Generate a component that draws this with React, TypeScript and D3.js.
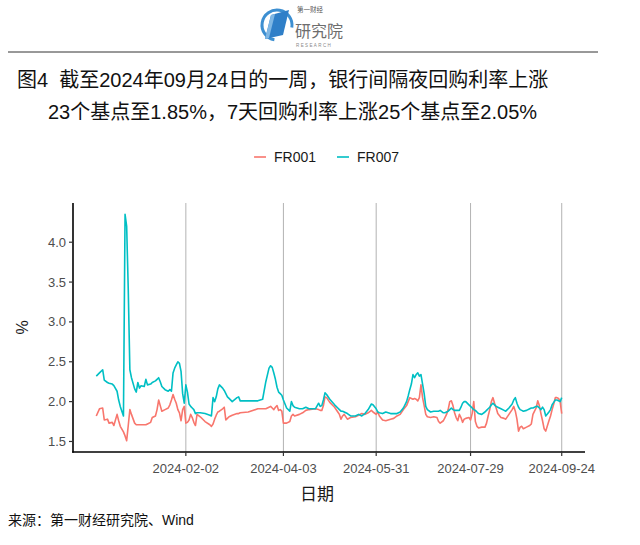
import React from 'react';
import * as d3 from 'd3';

const dates = [
  '2023-12-08','2023-12-10','2023-12-12','2023-12-13','2023-12-15','2023-12-16','2023-12-18','2023-12-19','2023-12-21','2023-12-22',
  '2023-12-23','2023-12-25','2023-12-26','2023-12-27','2023-12-28','2023-12-29','2023-12-30','2024-01-01','2024-01-02','2024-01-03',
  '2024-01-04','2024-01-05','2024-01-07','2024-01-08','2024-01-09','2024-01-11','2024-01-12','2024-01-14','2024-01-15','2024-01-16',
  '2024-01-17','2024-01-18','2024-01-20','2024-01-22','2024-01-23','2024-01-24','2024-01-25','2024-01-26','2024-01-27','2024-01-28',
  '2024-01-29','2024-01-30','2024-01-31','2024-02-01','2024-02-02','2024-02-03','2024-02-04','2024-02-05','2024-02-06','2024-02-07',
  '2024-02-08','2024-02-09','2024-02-11','2024-02-14','2024-02-17','2024-02-18','2024-02-19','2024-02-20','2024-02-21','2024-02-22',
  '2024-02-23','2024-02-25','2024-02-26','2024-02-27','2024-02-28','2024-02-29','2024-03-02','2024-03-05','2024-03-06','2024-03-07',
  '2024-03-12','2024-03-18','2024-03-21','2024-03-23','2024-03-25','2024-03-26','2024-03-27','2024-03-28','2024-03-29','2024-03-30',
  '2024-03-31','2024-04-01','2024-04-02','2024-04-03','2024-04-05','2024-04-07','2024-04-08','2024-04-09','2024-04-10','2024-04-13',
  '2024-04-15','2024-04-17','2024-04-19','2024-04-23','2024-04-25','2024-04-26','2024-04-27','2024-04-28','2024-04-29','2024-04-30',
  '2024-05-02','2024-05-05','2024-05-07','2024-05-08','2024-05-09','2024-05-10','2024-05-11','2024-05-13','2024-05-15','2024-05-18',
  '2024-05-20','2024-05-22','2024-05-24','2024-05-26','2024-05-28','2024-05-29','2024-05-31','2024-06-01','2024-06-02','2024-06-04',
  '2024-06-06','2024-06-09','2024-06-11','2024-06-13','2024-06-15','2024-06-17','2024-06-19','2024-06-20','2024-06-21','2024-06-22',
  '2024-06-23','2024-06-24','2024-06-25','2024-06-26','2024-06-27','2024-06-28','2024-06-29','2024-06-30','2024-07-01','2024-07-02',
  '2024-07-04','2024-07-06','2024-07-08','2024-07-09','2024-07-10','2024-07-12','2024-07-13','2024-07-14','2024-07-15','2024-07-16',
  '2024-07-17','2024-07-18','2024-07-19','2024-07-20','2024-07-21','2024-07-22','2024-07-23','2024-07-24','2024-07-25','2024-07-26',
  '2024-07-28','2024-07-29','2024-07-30','2024-07-31','2024-08-01','2024-08-02','2024-08-03','2024-08-05','2024-08-07','2024-08-08',
  '2024-08-09','2024-08-10','2024-08-11','2024-08-12','2024-08-13','2024-08-14','2024-08-15','2024-08-17','2024-08-19','2024-08-20',
  '2024-08-22','2024-08-24','2024-08-25','2024-08-26','2024-08-27','2024-08-28','2024-08-29','2024-08-30','2024-08-31','2024-09-02',
  '2024-09-04','2024-09-05','2024-09-06','2024-09-07','2024-09-08','2024-09-09','2024-09-10','2024-09-11','2024-09-12','2024-09-13',
  '2024-09-14','2024-09-16','2024-09-17','2024-09-18','2024-09-19','2024-09-20','2024-09-21','2024-09-22','2024-09-23','2024-09-24',
];

const fr001 = [
  1.82,1.91,1.92,1.77,1.78,1.73,1.74,1.70,1.84,1.76,
  1.69,1.62,1.57,1.51,1.70,1.90,1.84,1.73,1.71,1.71,
  1.71,1.71,1.71,1.71,1.72,1.74,1.80,1.82,1.90,2.02,
  1.95,1.88,1.90,1.92,1.96,2.02,2.09,2.03,1.98,1.90,
  1.86,1.76,1.90,1.94,1.73,1.74,1.77,1.84,1.80,1.74,
  1.70,1.84,1.81,1.75,1.71,1.69,1.72,1.78,1.83,1.87,
  1.88,1.91,1.93,1.77,1.79,1.81,1.83,1.85,1.85,1.86,
  1.87,1.91,1.91,1.91,1.93,1.94,1.92,1.90,1.93,1.95,
  1.89,1.90,1.88,1.73,1.73,1.75,1.82,1.84,1.82,1.84,
  1.86,1.89,1.90,1.91,1.90,1.89,1.89,1.95,2.06,2.05,
  1.99,1.93,1.87,1.84,1.78,1.82,1.84,1.78,1.80,1.81,
  1.83,1.85,1.84,1.86,1.89,1.87,1.84,1.87,1.82,1.77,
  1.76,1.78,1.79,1.82,1.84,1.90,1.95,2.00,2.05,2.04,
  2.03,2.04,2.03,2.01,2.05,2.21,2.05,1.95,1.84,1.81,
  1.80,1.81,1.80,1.75,1.73,1.76,1.80,1.84,1.90,2.00,
  2.01,1.95,1.86,1.80,1.76,1.84,1.80,1.74,1.78,1.79,
  1.80,1.77,1.85,2.00,1.75,1.69,1.67,1.68,1.68,1.73,
  1.82,1.90,2.00,2.05,1.98,1.92,1.85,1.80,1.79,1.78,
  1.84,1.90,1.94,1.88,1.78,1.63,1.68,1.69,1.66,1.68,
  1.70,1.72,1.84,1.88,1.92,2.01,1.95,1.85,1.76,1.66,
  1.63,1.76,1.82,1.90,1.97,2.05,2.05,2.04,2.00,1.85,
];

const fr007 = [
  2.32,2.36,2.40,2.27,2.24,2.23,2.22,2.20,2.13,2.02,
  1.94,1.82,4.35,4.20,3.40,2.40,2.30,2.16,2.12,2.24,
  2.17,2.20,2.19,2.28,2.21,2.22,2.24,2.26,2.28,2.30,
  2.25,2.19,2.15,2.13,2.15,2.13,2.36,2.42,2.46,2.50,
  2.48,2.38,2.10,1.98,2.21,2.12,1.97,1.94,1.92,1.90,
  1.85,1.86,1.86,1.85,1.83,1.82,2.05,2.00,2.06,2.16,
  2.21,2.17,2.14,2.10,2.06,2.04,2.00,2.05,2.06,2.01,
  2.01,2.01,2.03,2.25,2.42,2.45,2.43,2.36,2.28,2.18,
  2.12,2.10,2.08,2.02,1.92,1.88,2.00,1.95,1.93,1.91,
  1.91,1.93,1.91,1.91,1.98,1.94,1.95,2.02,2.11,2.09,
  2.03,1.96,1.92,1.90,1.88,1.88,1.87,1.85,1.82,1.82,
  1.84,1.82,1.85,1.90,1.97,1.96,1.91,1.87,1.86,1.85,
  1.87,1.85,1.85,1.85,1.87,1.92,2.00,2.07,2.15,2.22,
  2.34,2.30,2.34,2.36,2.32,2.34,2.22,2.10,1.94,1.90,
  1.87,1.88,1.88,1.88,1.89,1.86,1.86,1.87,1.88,1.90,
  1.92,1.90,1.89,1.89,1.89,1.89,1.93,1.98,2.00,2.00,
  1.96,1.94,1.92,1.90,1.89,1.87,1.85,1.84,1.87,1.89,
  1.91,1.93,1.96,1.98,1.96,1.94,1.93,1.91,1.89,1.88,
  1.92,1.97,2.02,2.05,1.98,1.93,1.90,1.89,1.88,1.89,
  1.91,1.92,1.92,1.93,1.94,1.94,1.92,1.90,1.93,1.90,
  1.82,1.87,1.90,1.96,1.99,2.02,2.02,2.01,2.00,2.05,
];

const seriesNames = ['FR001', 'FR007'];
const seriesColors = ['#F8766D', '#00BFC4'];
const xTickDates = ['2024-02-02', '2024-04-03', '2024-05-31', '2024-07-29', '2024-09-24'];
const yTicks = [1.5, 2.0, 2.5, 3.0, 3.5, 4.0];
const titleLines = [
  '图4  截至2024年09月24日的一周，银行间隔夜回购利率上涨',
  '23个基点至1.85%，7天回购利率上涨25个基点至2.05%',
];
const xAxisTitle = '日期';
const yAxisTitle = '%';
const sourceText = '来源：第一财经研究院、Wind';

const FONT = "'Liberation Sans', Arial, 'Noto Sans CJK SC', sans-serif";

export default function App() {
  const W = 640, H = 545;
  const plot = { left: 73, right: 585, top: 203, bottom: 452 };
  const parse = d3.timeParse('%Y-%m-%d');
  const xs = dates.map((d) => parse(d) as Date);
  const t0 = +xs[0], t1 = +xs[xs.length - 1];
  const tr = t1 - t0;
  const x = d3.scaleTime()
    .domain([new Date(t0 - 0.05 * tr), new Date(t1 + 0.05 * tr)])
    .range([plot.left, plot.right]);
  const all = fr001.concat(fr007);
  const vmin = d3.min(all) as number, vmax = d3.max(all) as number;
  const vr = vmax - vmin;
  const y = d3.scaleLinear()
    .domain([vmin - 0.05 * vr, vmax + 0.05 * vr])
    .range([plot.bottom, plot.top]);

  const series = [fr001, fr007];
  const line = d3.line<number>()
    .x((_, i) => x(xs[i]))
    .y((v) => y(v));

  const tickColor = '#4d4d4d';
  const cjk = "'Noto Sans CJK SC', sans-serif";

  return (
    <svg width={W} height={H} style={{ position: 'absolute', left: 0, top: 0, background: '#fff' }}
      fontFamily={FONT}>
      <rect x={0} y={0} width={W} height={H} fill="#fff" />
      {/* logo */}
      <g>
        <circle cx={277} cy={25} r={15} fill="none" stroke="#3d8fd1" strokeWidth={3}
          strokeDasharray="70 30" transform="rotate(100 277 25)" />
        <path d="M271 15 L289 10 L283 35 L265 39 Z" fill="#2f7fc8" />
        <path d="M271 15 L275 14 L269 38 L265 39 Z" fill="#7fb7e4" />
        <text x={297} y={12} fontSize={6.5} fill="#555" fontFamily={cjk}>第一财经</text>
        <text x={295} y={37} fontSize={16} fill="#6d6d6d" fontFamily={cjk}>研究院</text>
        <text x={296} y={47} fontSize={4.5} fill="#888" letterSpacing={1.4}>RESEARCH</text>
      </g>
      <line x1={8} x2={598} y1={52} y2={52} stroke="#333" strokeWidth={1} />
      {/* title */}
      <text x={17} y={87} fontSize={20} fill="#111" style={{ whiteSpace: 'pre' }}>{titleLines[0]}</text>
      <text x={48} y={119} fontSize={20} fill="#111">{titleLines[1]}</text>
      {/* legend */}
      {seriesNames.map((name, i) => {
        const lx = 254 + i * 83;
        return (
          <g key={name}>
            <line x1={lx} x2={lx + 12} y1={157} y2={157} stroke={seriesColors[i]} strokeWidth={1.6} />
            <text x={lx + 20} y={162} fontSize={14} fill="#1a1a1a">{name}</text>
          </g>
        );
      })}
      {/* grid */}
      {xTickDates.map((d) => {
        const px = x(parse(d) as Date);
        return <line key={'g' + d} x1={px} x2={px} y1={plot.top} y2={plot.bottom} stroke="#b3b3b3" strokeWidth={1} />;
      })}
      {/* series */}
      {series.map((s, i) => (
        <path key={seriesNames[i]} d={line(s) || ''} fill="none" stroke={seriesColors[i]} strokeWidth={1.6}
          strokeLinejoin="round" />
      ))}
      {/* axes */}
      <line x1={plot.left} x2={plot.left} y1={plot.top} y2={plot.bottom + 0.8} stroke="#000" strokeWidth={1.6} />
      <line x1={plot.left - 0.8} x2={plot.right} y1={plot.bottom} y2={plot.bottom} stroke="#000" strokeWidth={1.6} />
      {yTicks.map((v) => (
        <g key={'y' + v}>
          <line x1={plot.left - 4} x2={plot.left} y1={y(v)} y2={y(v)} stroke="#333" strokeWidth={1.2} />
          <text x={plot.left - 7} y={y(v) + 4.5} fontSize={13} fill={tickColor} textAnchor="end">{v.toFixed(1)}</text>
        </g>
      ))}
      {xTickDates.map((d) => {
        const px = x(parse(d) as Date);
        return (
          <g key={'x' + d}>
            <line x1={px} x2={px} y1={plot.bottom} y2={plot.bottom + 4} stroke="#333" strokeWidth={1.2} />
            <text x={px} y={plot.bottom + 21} fontSize={13} fill={tickColor} textAnchor="middle">{d}</text>
          </g>
        );
      })}
      <text x={(plot.left + plot.right) / 2 - 12} y={500} fontSize={17} fill="#1a1a1a" textAnchor="middle">{xAxisTitle}</text>
      <text transform={`translate(28 ${(plot.top + plot.bottom) / 2}) rotate(-90)`} fontSize={16} fill="#1a1a1a"
        textAnchor="middle">{yAxisTitle}</text>
      {/* source */}
      <text x={8} y={525} fontSize={14} fill="#111">{sourceText}</text>
    </svg>
  );
}
